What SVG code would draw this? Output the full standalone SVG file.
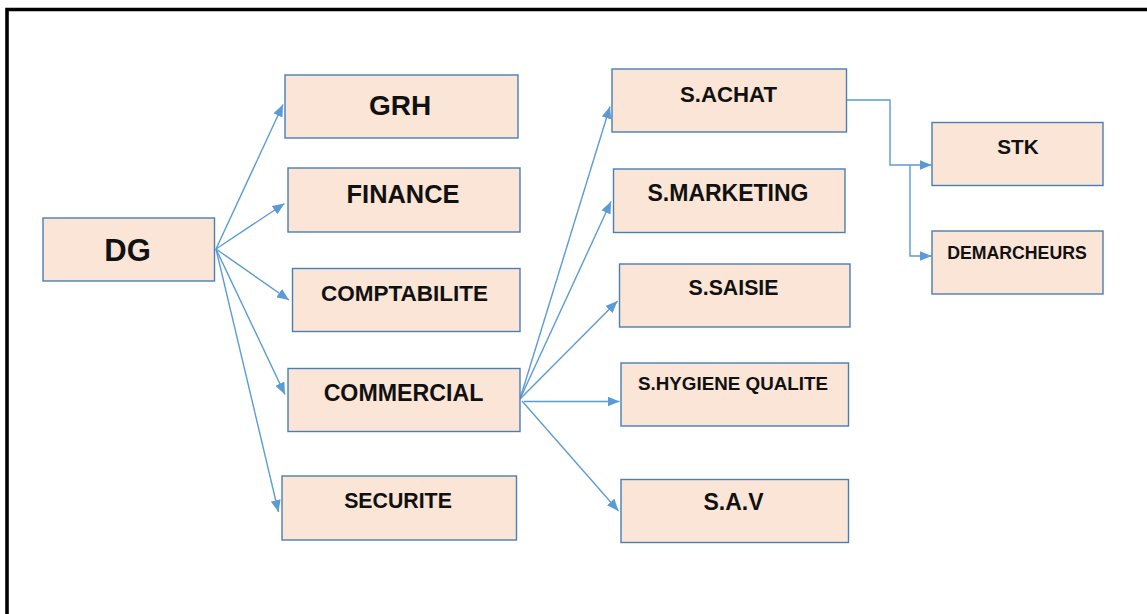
<svg xmlns="http://www.w3.org/2000/svg" width="1147" height="614" viewBox="0 0 1147 614">
  <style>
    .box { fill: #FBE5D6; stroke: #4A7EB5; stroke-width: 1.4; }
    .lbl { font-family: "Liberation Sans", Arial, sans-serif; font-weight: bold; fill: #111111; text-anchor: middle; }
    .link { fill: none; stroke: #5B9BD5; stroke-width: 1.4; marker-end: url(#arrow); }
  </style>
  <defs>
    <marker id="arrow" markerUnits="userSpaceOnUse" markerWidth="12" markerHeight="10" refX="12" refY="5" orient="auto">
      <path d="M0,0 L12,5 L0,10 z" fill="#5B9BD5"/>
    </marker>
  </defs>

  <rect width="1147" height="614" fill="#ffffff"/>
  <!-- page frame (left and top edges) -->
  <path d="M7,614 V9.5 H1147" fill="none" stroke="#000000" stroke-width="3.6"/>

  <g id="connectors">
    <!-- DG to its departments -->
    <line class="link" x1="216" y1="249" x2="283" y2="104.5"/>
    <line class="link" x1="216" y1="249" x2="284.5" y2="203.5"/>
    <line class="link" x1="216" y1="249" x2="289" y2="300"/>
    <line class="link" x1="216" y1="249" x2="285" y2="394.5"/>
    <line class="link" x1="216" y1="249" x2="278.5" y2="512"/>
    <!-- COMMERCIAL to its services -->
    <line class="link" x1="520" y1="399" x2="610" y2="106.5"/>
    <line class="link" x1="520" y1="399" x2="611" y2="201.5"/>
    <line class="link" x1="520" y1="399" x2="617.5" y2="301"/>
    <line class="link" x1="524" y1="401.5" x2="619.5" y2="401.5"/>
    <line class="link" x1="522" y1="401" x2="618.5" y2="511"/>
    <!-- S.ACHAT to STK and DEMARCHEURS -->
    <path class="link" d="M847,100 H890 V165 H931.5"/>
    <path class="link" d="M910,165 V256 H931.5"/>
  </g>

  <g id="dg">
    <rect class="box" x="43" y="218" width="171.5" height="63"/>
    <text class="lbl" x="127.5" y="261" font-size="31">DG</text>
  </g>
  <g id="grh">
    <rect class="box" x="285" y="75" width="233" height="63"/>
    <text class="lbl" x="400" y="115" font-size="28">GRH</text>
  </g>
  <g id="finance">
    <rect class="box" x="288" y="168" width="232" height="64"/>
    <text class="lbl" x="403" y="202.5" font-size="25.4">FINANCE</text>
  </g>
  <g id="comptabilite">
    <rect class="box" x="292.5" y="268.5" width="227.5" height="63"/>
    <text class="lbl" x="404.5" y="301" font-size="22.5">COMPTABILITE</text>
  </g>
  <g id="commercial">
    <rect class="box" x="288" y="368.5" width="232" height="63"/>
    <text class="lbl" x="403.5" y="401" font-size="23.2">COMMERCIAL</text>
  </g>
  <g id="securite">
    <rect class="box" x="282" y="476" width="234.5" height="64"/>
    <text class="lbl" x="398" y="507.5" font-size="21.3">SECURITE</text>
  </g>
  <g id="s-achat">
    <rect class="box" x="612" y="69" width="234.5" height="63"/>
    <text class="lbl" x="728.5" y="101.5" font-size="22.2">S.ACHAT</text>
  </g>
  <g id="s-marketing">
    <rect class="box" x="613.5" y="169" width="231.5" height="63.5"/>
    <text class="lbl" x="728" y="201" font-size="23">S.MARKETING</text>
  </g>
  <g id="s-saisie">
    <rect class="box" x="619.5" y="264" width="230.5" height="63"/>
    <text class="lbl" x="733.5" y="295" font-size="21.3">S.SAISIE</text>
  </g>
  <g id="s-hygiene-qualite">
    <rect class="box" x="621" y="363" width="227.5" height="63"/>
    <text class="lbl" x="733" y="389.5" font-size="18.8">S.HYGIENE QUALITE</text>
  </g>
  <g id="s-av">
    <rect class="box" x="621" y="479.5" width="227.5" height="63"/>
    <text class="lbl" x="733.5" y="510" font-size="23">S.A.V</text>
  </g>
  <g id="stk">
    <rect class="box" x="932" y="122.5" width="171" height="63"/>
    <text class="lbl" x="1018" y="153.5" font-size="20.7">STK</text>
  </g>
  <g id="demarcheurs">
    <rect class="box" x="932" y="231" width="171" height="63"/>
    <text class="lbl" x="1017" y="259" font-size="17.7">DEMARCHEURS</text>
  </g>
</svg>
